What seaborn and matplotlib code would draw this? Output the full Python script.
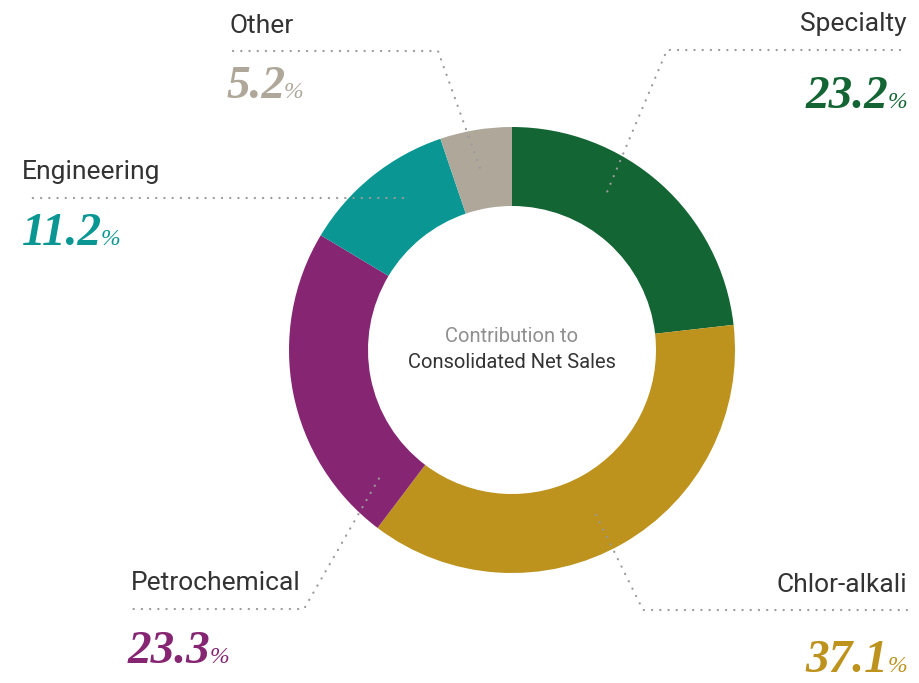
import numpy as np
import matplotlib.pyplot as plt
import seaborn as sns

# segment data, clockwise from 12 o'clock
segments = ['Specialty', 'Chlor-alkali', 'Petrochemical', 'Engineering', 'Other']
shares = [23.2, 37.1, 23.3, 11.2, 5.2]
colors = ['#146534', '#BD921D', '#862673', '#0A9794', '#AFA89A']

sns.set_theme(style='white')
plt.rcParams['font.family'] = ['Roboto', 'DejaVu Sans']

fig = plt.figure(figsize=(9.2, 6.83), dpi=100)
ax = fig.add_axes([0, 0, 1, 1])

cx, cy, R = 512, 350, 223
# y axis runs downward (pixel-like), so start at -90 and go counterclockwise in data space
ax.pie(shares, colors=colors, startangle=-90, counterclock=True,
       radius=R, center=(cx, cy),
       wedgeprops=dict(width=79, edgecolor='none', linewidth=0))
ax.set_xlim(0, 920)
ax.set_ylim(683, 0)
ax.set_aspect('equal')
ax.axis('off')

# centre caption
ax.text(cx, 336, 'Contribution to', ha='center', va='center', fontsize=14.5,
        color='#8f8f8f')
ax.text(cx, 362, 'Consolidated Net Sales', ha='center', va='center', fontsize=14.5,
        color='#333333')

# label layout: anchor angle (clockwise from top), elbow, line end, text side
layout = {
    'Specialty':     dict(ang=31,  elbow=(667, 50),  end=(907, 50),  lab=(907, 31),  num=(907, 108), side='right'),
    'Chlor-alkali':  dict(ang=153, elbow=(643, 610), end=(907, 610), lab=(907, 592), num=(907, 672), side='right'),
    'Petrochemical': dict(ang=226, elbow=(304, 609), end=(132, 609), lab=(131, 590), num=(128, 663), side='left'),
    'Engineering':   dict(ang=324, elbow=None,       end=(25, 198),  lab=(22, 179),  num=(22, 245),  side='left'),
    'Other':         dict(ang=350, elbow=(438, 51),  end=(232, 51),  lab=(230, 33),  num=(226, 98),  side='left'),
}

dot = dict(color='#9a9a9a', lw=1.6, linestyle=(0, (0.1, 3.6)), dash_capstyle='round')
fig.canvas.draw()
renderer = fig.canvas.get_renderer()

for name, val, col in zip(segments, shares, colors):
    L = layout[name]
    a = np.deg2rad(L['ang'])
    r_mid = 185
    ax0, ay0 = cx + r_mid * np.sin(a), cy - r_mid * np.cos(a)
    if L['elbow'] is None:
        xs, ys = [ax0, L['end'][0]], [L['end'][1], L['end'][1]]
    else:
        xs = [ax0, L['elbow'][0], L['end'][0]]
        ys = [ay0, L['elbow'][1], L['end'][1]]
    ax.plot(xs, ys, **dot)

    ha = L['side']
    ax.text(L['lab'][0], L['lab'][1], name, ha=ha, va='baseline', fontsize=19,
            color='#333333')

    num = f'{val:.1f}'
    nfont = dict(family=['Liberation Serif', 'DejaVu Serif'], style='italic', color=col)
    if ha == 'left':
        t = ax.text(L['num'][0], L['num'][1], num, ha='left', va='baseline',
                    fontsize=34, fontweight='semibold', **nfont)
        bb = t.get_window_extent(renderer)
        ax.text(bb.x1 - 1, L['num'][1], '%', ha='left', va='baseline',
                fontsize=17, **nfont)
    else:
        p = ax.text(L['num'][0], L['num'][1], '%', ha='right', va='baseline',
                    fontsize=17, **nfont)
        bb = p.get_window_extent(renderer)
        ax.text(bb.x0 + 1, L['num'][1], num, ha='right', va='baseline',
                fontsize=34, fontweight='semibold', **nfont)

fig.savefig('out.png', dpi=100, facecolor='white')
